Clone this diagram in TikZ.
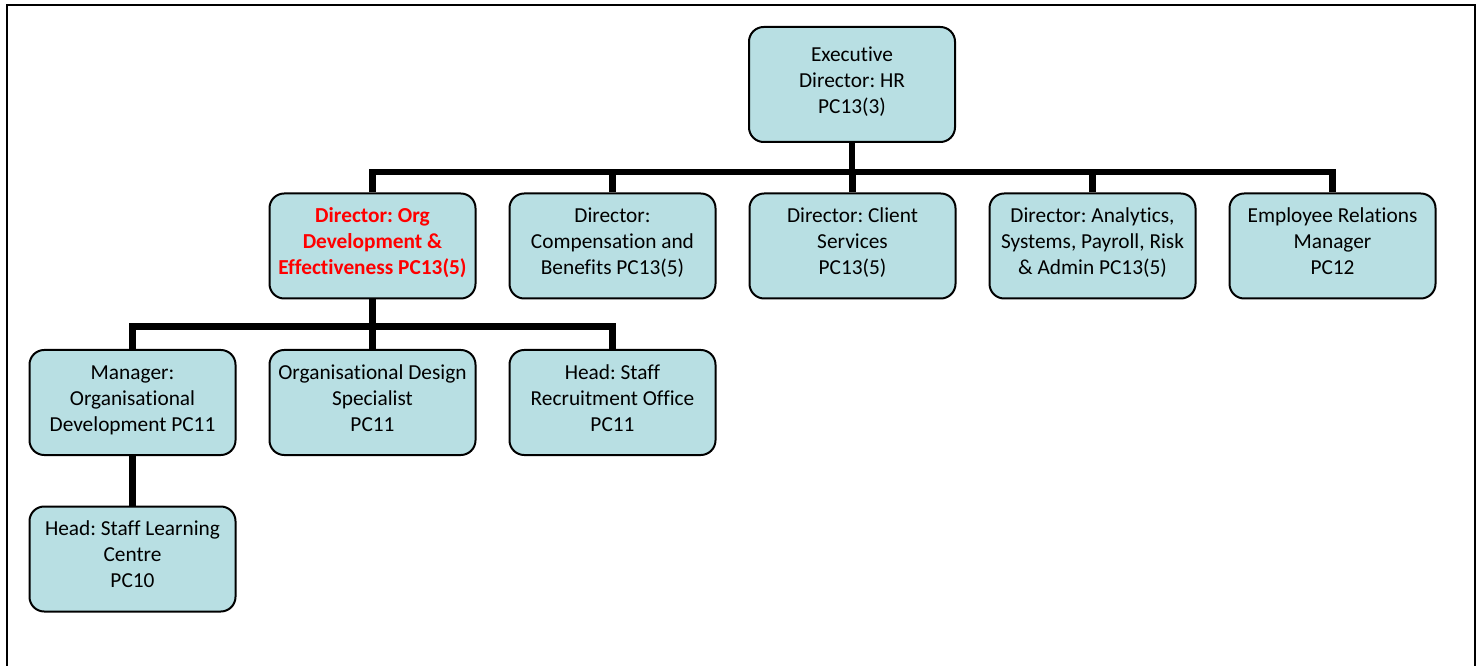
\documentclass[tikz,border=0pt]{standalone}
\usepackage{fontspec}
\setmainfont{Carlito}[Ligatures=NoCommon]
\frenchspacing
\definecolor{boxfill}{RGB}{184,223,227}
\definecolor{orgred}{RGB}{255,0,0}
\newcommand{\boxlines}[1]{\begin{tabular}{@{}c@{}}#1\\[4pt]\end{tabular}}
\begin{document}
\begin{tikzpicture}[x=0.75pt,y=-0.75pt,
  orgbox/.style={draw=black,line width=1.5pt,fill=boxfill,rounded corners=11pt,
    minimum width=154.5pt,minimum height=78.75pt,inner sep=0pt,
    font=\fontsize{16}{19.5}\selectfont},
  conn/.style={line width=5.2pt,line join=miter,draw=black}]
\useasboundingbox (0,0) rectangle (1484,666);
\draw[line width=1.6pt] (7,666) -- (7,5) -- (1475,5) -- (1475,666);
\node[orgbox,minimum height=86.25pt] (exec) at (852,84.5) {\boxlines{Executive\\Director: HR\\PC13(3)}};
\node[orgbox,text=orgred,font=\fontsize{16}{19.5}\selectfont\bfseries] (d1) at (372.5,246) {\boxlines{Director: Org\\Development \&\\Effectiveness PC13(5)}};
\node[orgbox] (d2) at (612.5,246) {\boxlines{Director:\\Compensation and\\Benefits PC13(5)}};
\node[orgbox] (d3) at (852.5,246) {\boxlines{Director: Client\\Services\\PC13(5)}};
\node[orgbox] (d4) at (1092.5,246) {\boxlines{Director: Analytics,\\Systems, Payroll, Risk\\\& Admin PC13(5)}};
\node[orgbox] (d5) at (1332.5,246) {\boxlines{Employee Relations\\Manager\\PC12}};
\node[orgbox] (m1) at (132.5,402.5) {\boxlines{Manager:\\Organisational\\Development PC11}};
\node[orgbox] (m2) at (372.5,402.5) {\boxlines{Organisational Design\\Specialist\\PC11}};
\node[orgbox] (m3) at (612.5,402.5) {\boxlines{Head: Staff\\Recruitment Office\\PC11}};
\node[orgbox] (h1) at (132.5,559) {\boxlines{Head: Staff Learning\\Centre\\PC10}};
\coordinate (bus1) at (852,172);
\coordinate (bus2) at (372,326.5);
\draw[conn] (exec.south) -- (exec.south |- bus1);
\draw[conn] (d1.north) -- (d1.north |- bus1) -- (d5.north |- bus1) -- (d5.north);
\draw[conn] (d2.north) -- (d2.north |- bus1);
\draw[conn] (d3.north) -- (d3.north |- bus1);
\draw[conn] (d4.north) -- (d4.north |- bus1);
\draw[conn] (d1.south) -- (d1.south |- bus2);
\draw[conn] (m1.north) -- (m1.north |- bus2) -- (m3.north |- bus2) -- (m3.north);
\draw[conn] (m2.north) -- (m2.north |- bus2);
\draw[conn] (m1.south) -- (h1.north);
\end{tikzpicture}
\end{document}
